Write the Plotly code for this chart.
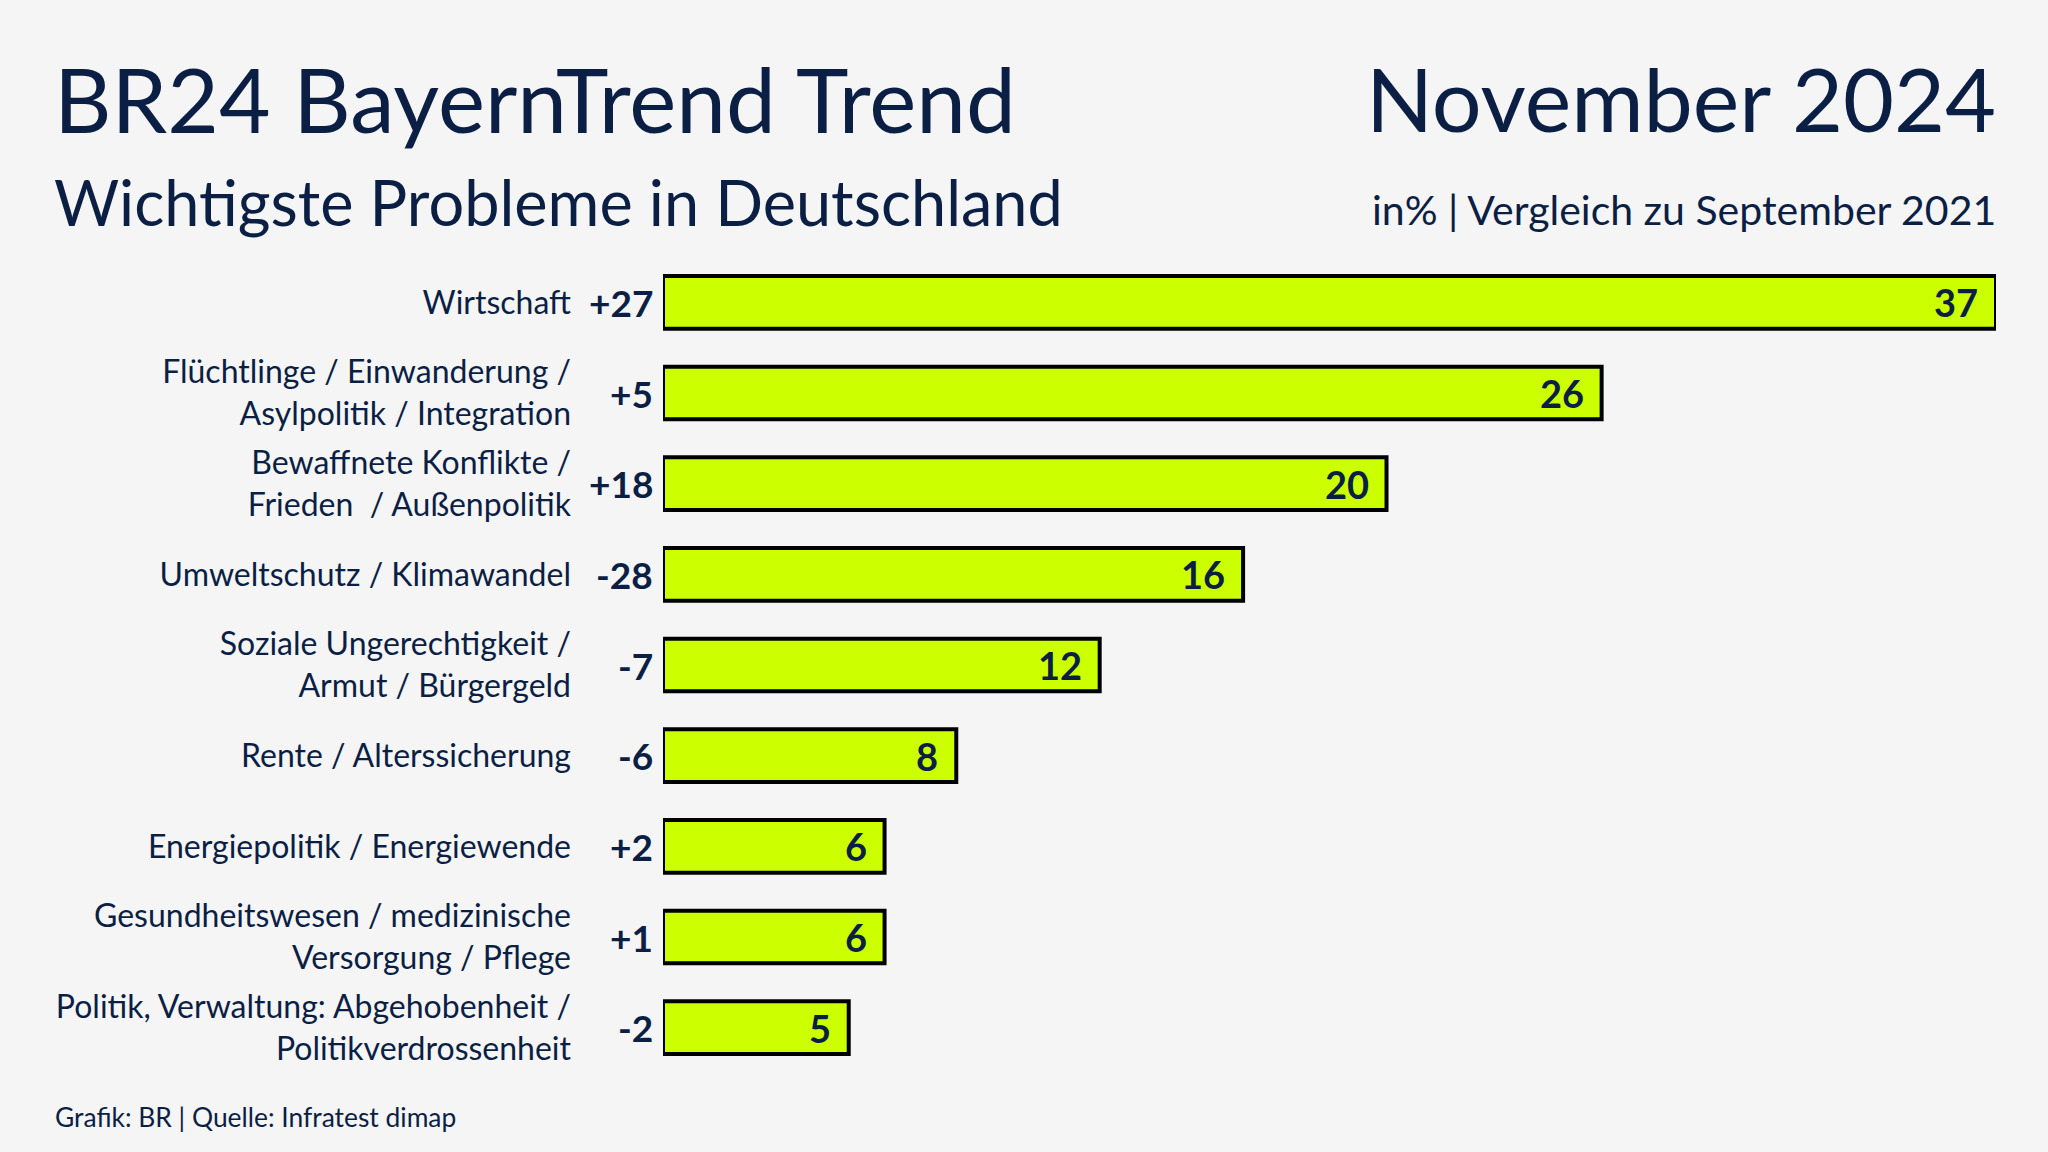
import plotly.graph_objects as go

categories = [
    "Wirtschaft",
    "Flüchtlinge / Einwanderung /<br>Asylpolitik / Integration",
    "Bewaffnete Konflikte /<br>Frieden  / Außenpolitik",
    "Umweltschutz / Klimawandel",
    "Soziale Ungerechtigkeit /<br>Armut / Bürgergeld",
    "Rente / Alterssicherung",
    "Energiepolitik / Energiewende",
    "Gesundheitswesen / medizinische<br>Versorgung / Pflege",
    "Politik, Verwaltung: Abgehobenheit /<br>Politikverdrossenheit",
]
values = [37, 26, 20, 16, 12, 8, 6, 6, 5]
changes = ["+27", "+5", "+18", "-28", "-7", "-6", "+2", "+1", "-2"]

NAVY = "#0b1f45"
LIME = "#ccff00"
BG = "#f5f5f5"
FONT = "Lato"
BASE = -0.18  # bars start slightly left of zero, as in the original

W, H = 2048, 1152
L, R, T, B = 663, 2048 - 1996, 257, 1152 - 1073


def px(x):
    return (x - L) / (W - L - R)


def py(y):
    return 1 - (y - T) / (H - T - B)


fig = go.Figure()
fig.add_trace(go.Bar(
    y=categories, x=[v - BASE for v in values], base=BASE, orientation="h",
    marker=dict(color=LIME, line=dict(color="#000000", width=4)),
    cliponaxis=False, hoverinfo="skip",
))

annotations = []
for c, v, ch in zip(categories, values, changes):
    annotations.append(dict(x=v, y=c, xref="x", yref="y", text=f"<b>{v}</b>",
                            xanchor="right", yanchor="middle", xshift=-16, showarrow=False,
                            font=dict(family=FONT, size=38, color=NAVY)))
    annotations.append(dict(x=BASE, y=c, xref="x", yref="y", text=f"<b>{ch}</b>",
                            xanchor="right", yanchor="middle", xshift=-8, showarrow=False,
                            font=dict(family=FONT, size=37, color=NAVY)))

texts = [
    ("BR24 BayernTrend Trend", 52, 98, "left", 89),
    ("Wichtigste Probleme in Deutschland", 52, 201, "left", 63),
    ("November 2024", 1998, 98, "right", 88),
    ("in% | Vergleich zu September 2021", 1998, 209, "right", 41),
    ("Grafik: BR | Quelle: Infratest dimap", 53, 1117, "left", 26.4),
]
for t, x, y, anc, s in texts:
    annotations.append(dict(x=px(x), y=py(y), xref="paper", yref="paper", text=t,
                            xanchor=anc, yanchor="middle", showarrow=False,
                            font=dict(family=FONT, size=s, color=NAVY)))

fig.update_layout(
    width=W, height=H,
    margin=dict(l=L, r=R, t=T, b=B),
    paper_bgcolor=BG, plot_bgcolor=BG,
    showlegend=False,
    bargap=0.42,
    xaxis=dict(range=[BASE, 37], visible=False, fixedrange=True),
    yaxis=dict(autorange="reversed", showgrid=False, zeroline=False, showline=False,
               ticks="", ticklabelstandoff=91,
               tickfont=dict(family=FONT, size=32, color=NAVY), fixedrange=True),
    annotations=annotations,
)

fig.write_html(
    "out.html",
    config={"displayModeBar": False},
    post_script="document.body.style.margin='0';document.body.style.background='#f5f5f5';document.body.style.overflow='hidden';",
)
